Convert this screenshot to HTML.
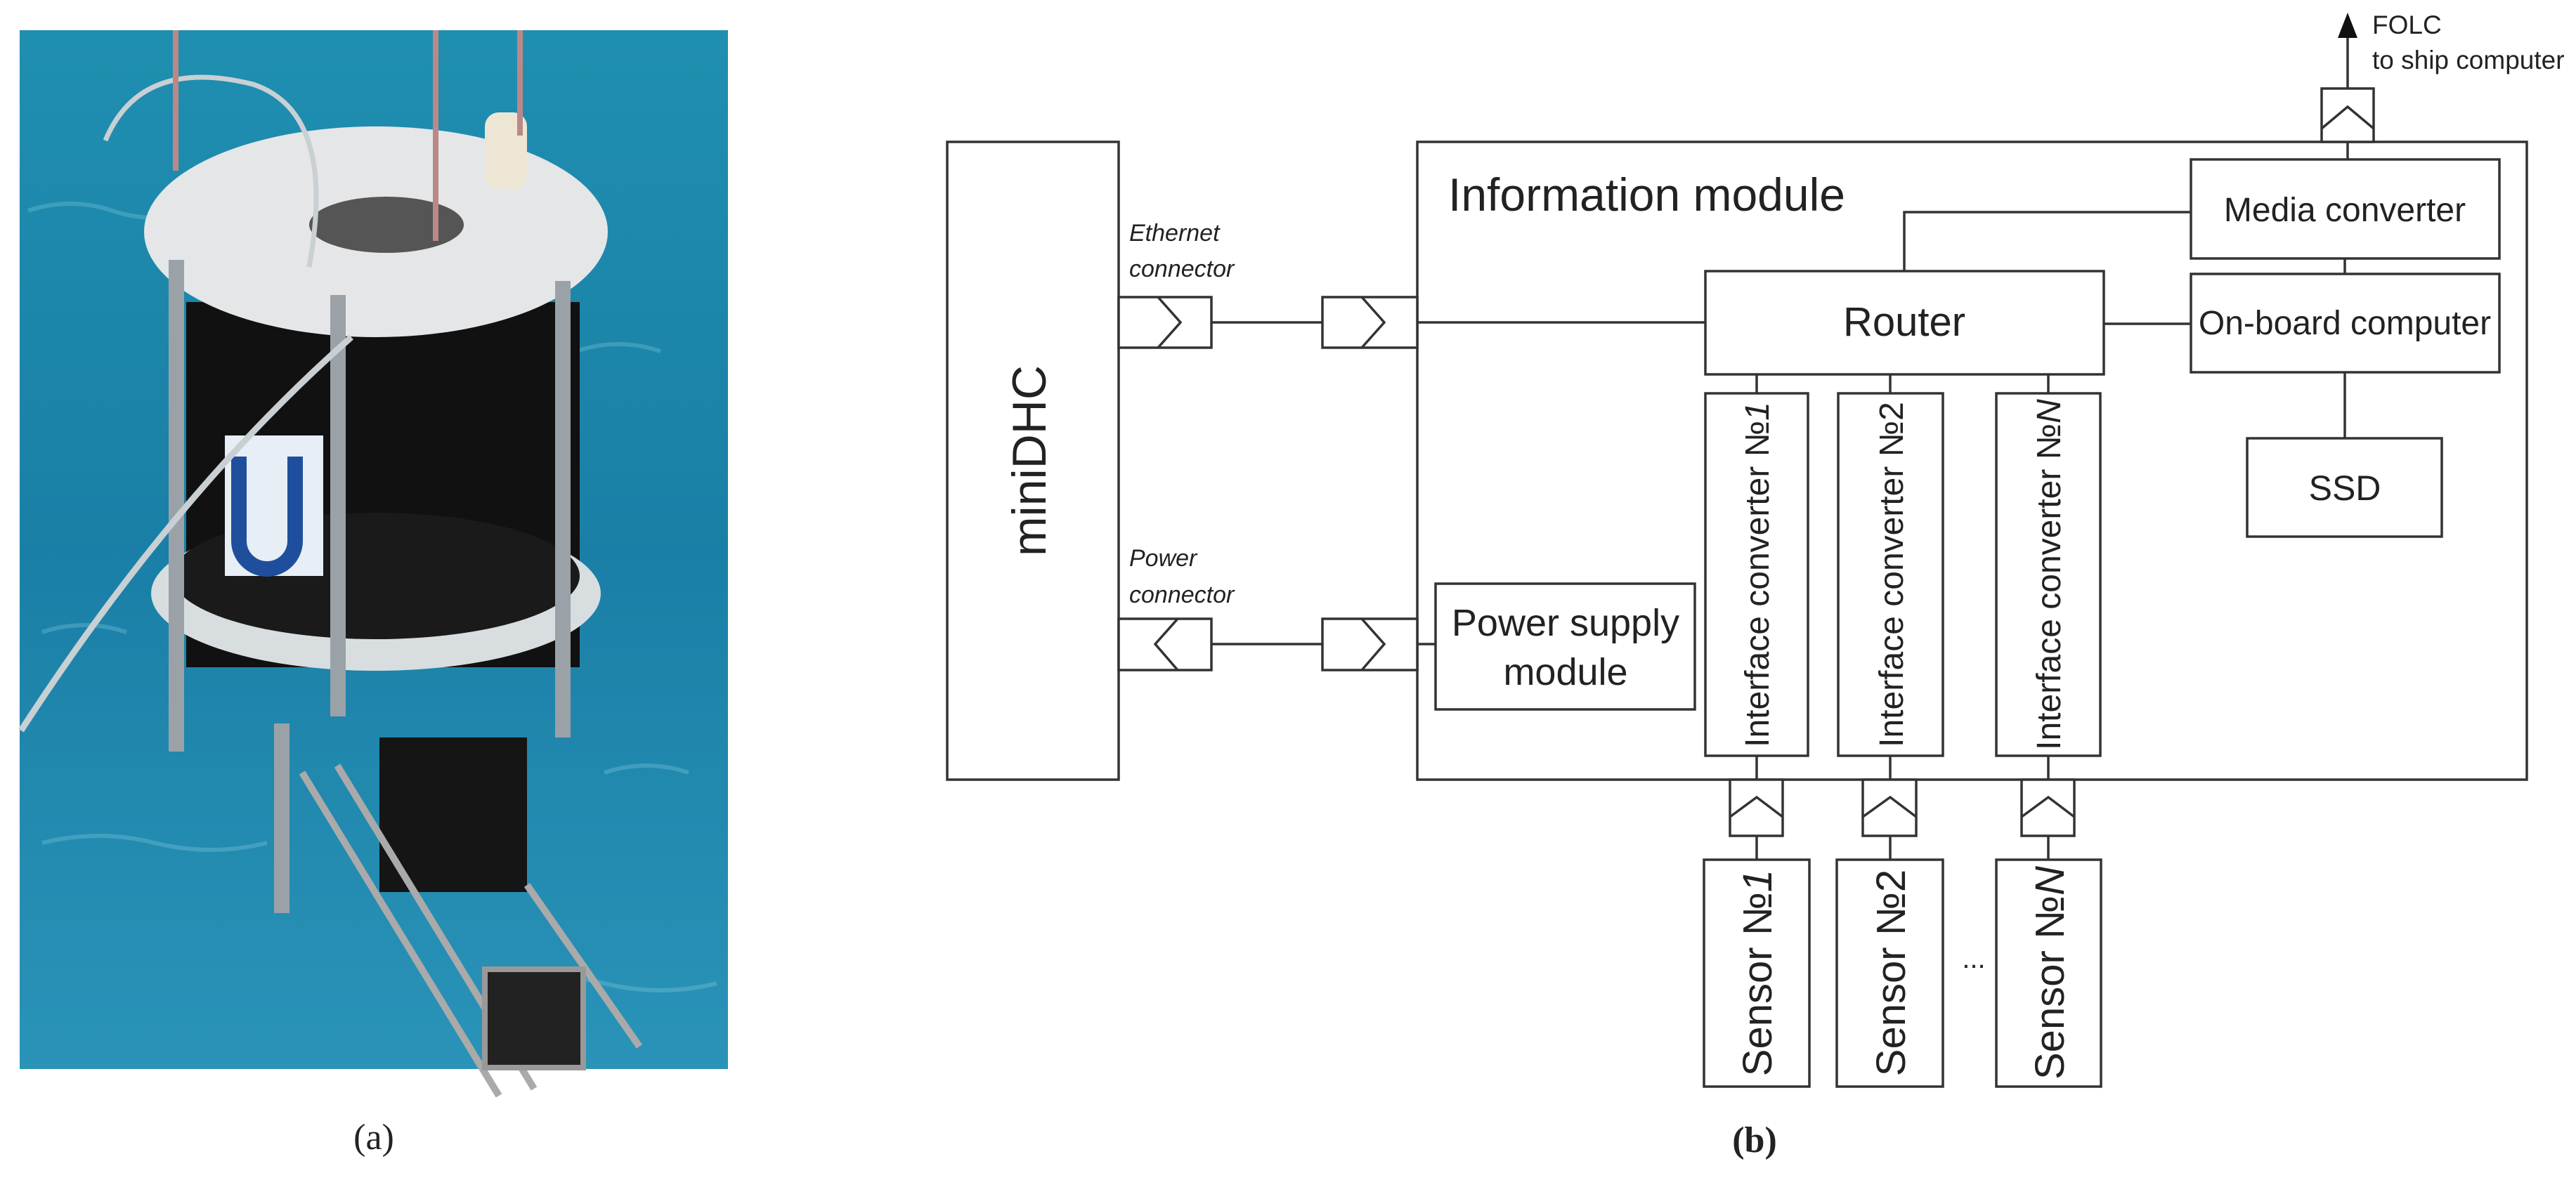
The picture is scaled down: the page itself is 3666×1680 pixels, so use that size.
<!DOCTYPE html>
<html><head><meta charset="utf-8"><style>
html,body{margin:0;padding:0;background:#fff;}
svg{display:block;}
text{font-family:"Liberation Sans",Arial,sans-serif;fill:#222;}
.s{fill:none;stroke:#333;stroke-width:3.5;}
.b{fill:#fff;stroke:#333;stroke-width:3.5;}
</style></head><body>
<svg width="3666" height="1680" viewBox="0 0 3666 1680" xmlns="http://www.w3.org/2000/svg">
<defs>
<linearGradient id="w" x1="0" y1="0" x2="0" y2="1">
<stop offset="0" stop-color="#1f8fb0"/><stop offset="0.5" stop-color="#1a7fa6"/><stop offset="1" stop-color="#2a93b8"/>
</linearGradient>
</defs>
<!-- photo -->
<rect x="28" y="43" width="1008" height="1479" fill="url(#w)"/>
<g opacity="0.25" stroke="#9fe0f0" stroke-width="6" fill="none">
<path d="M40 300 q60 -20 120 0 t120 0"/><path d="M820 500 q60 -20 120 0"/><path d="M60 1200 q80 -20 160 0 t160 0"/><path d="M700 1400 q80 -20 160 0 t160 0"/><path d="M60 900 q60 -20 120 0"/><path d="M860 1100 q60 -20 120 0"/>
</g>
<rect x="265" y="430" width="560" height="520" fill="#111"/>
<ellipse cx="535" cy="845" rx="320" ry="110" fill="#d8dde0"/>
<ellipse cx="535" cy="820" rx="290" ry="90" fill="#1a1a1a"/>
<ellipse cx="535" cy="330" rx="330" ry="150" fill="#e4e6e8"/>
<ellipse cx="550" cy="320" rx="110" ry="40" fill="#555"/>
<rect x="690" y="160" width="60" height="110" rx="20" fill="#eee6d5"/>
<rect x="320" y="620" width="140" height="200" fill="#e8eef5"/>
<path d="M340 650 v120 a40 40 0 0 0 80 0 v-120" stroke="#1f4f9c" stroke-width="22" fill="none"/>
<g fill="#9aa2a8"><rect x="240" y="370" width="22" height="700"/><rect x="470" y="420" width="22" height="600"/><rect x="790" y="400" width="22" height="650"/><rect x="390" y="1030" width="22" height="270"/></g>
<path d="M540 1050 h210 v220 h-210z" fill="#151515"/>
<path d="M430 1100 L710 1560 M480 1090 L760 1550 M750 1260 L910 1490" stroke="#aaa" stroke-width="10" fill="none"/>
<rect x="690" y="1380" width="140" height="140" fill="#222" stroke="#999" stroke-width="8"/>
<path d="M30 1040 Q250 700 500 480" stroke="#c8d0d4" stroke-width="9" fill="none"/>
<path d="M150 200 Q200 80 360 120 Q480 160 440 380" stroke="#c8d0d4" stroke-width="7" fill="none"/>
<path d="M250 43 v200 M620 43 v300 M740 43 v150" stroke="#b88" stroke-width="8"/>
<text x="532" y="1636" font-family="Liberation Serif,serif" font-size="52" text-anchor="middle" style="font-family:'Liberation Serif',serif">(<tspan>a</tspan>)</text>

<!-- diagram -->
<rect class="b" x="1348" y="202" width="244" height="908"/>
<text transform="translate(1488,656) rotate(-90)" font-size="68" text-anchor="middle">miniDHC</text>
<text x="1607" y="343" font-size="34" font-style="italic">Ethernet</text>
<text x="1607" y="394" font-size="34" font-style="italic">connector</text>
<text x="1607" y="806" font-size="34" font-style="italic">Power</text>
<text x="1607" y="858" font-size="34" font-style="italic">connector</text>
<!-- miniDHC connectors -->
<rect class="b" x="1592" y="423" width="132" height="72"/>
<path class="s" d="M1648 423 L1680 459 L1648 495"/>
<rect class="b" x="1592" y="881" width="132" height="73"/>
<path class="s" d="M1676 881 L1644 917 L1676 954"/>
<line class="s" x1="1724" y1="459" x2="1882" y2="459"/>
<line class="s" x1="1724" y1="917" x2="1882" y2="917"/>
<!-- info module -->
<rect class="b" x="2017" y="202" width="1579" height="908"/>
<text x="2061" y="300" font-size="66">Information module</text>
<rect class="b" x="1882" y="423" width="135" height="72"/>
<path class="s" d="M1938 423 L1970 459 L1938 495"/>
<rect class="b" x="1882" y="881" width="135" height="73"/>
<path class="s" d="M1938 881 L1970 917 L1938 954"/>
<line class="s" x1="2017" y1="459" x2="2427" y2="459"/>
<line class="s" x1="2017" y1="917" x2="2043" y2="917"/>
<!-- router -->
<rect class="b" x="2427" y="386" width="567" height="147"/>
<text x="2710" y="478" font-size="58" text-anchor="middle">Router</text>
<path class="s" d="M2710 386 V302 H3118"/>
<line class="s" x1="2994" y1="461" x2="3118" y2="461"/>
<rect class="b" x="3118" y="227" width="439" height="141"/>
<text x="3337" y="315" font-size="48" text-anchor="middle">Media converter</text>
<line class="s" x1="3337" y1="368" x2="3337" y2="390"/>
<rect class="b" x="3118" y="390" width="439" height="140"/>
<text x="3337" y="476" font-size="48" text-anchor="middle">On-board computer</text>
<line class="s" x1="3337" y1="530" x2="3337" y2="624"/>
<rect class="b" x="3198" y="624" width="277" height="140"/>
<text x="3337" y="712" font-size="50" text-anchor="middle">SSD</text>
<!-- top connector -->
<line class="s" x1="3341" y1="202" x2="3341" y2="227"/>
<rect class="b" x="3304" y="126" width="74" height="76"/>
<path class="s" d="M3304 183 L3341 152 L3378 183"/>
<line class="s" x1="3341" y1="126" x2="3341" y2="48"/>
<path d="M3341 18 L3327 54 L3355 54 Z" fill="#111"/>
<text x="3376" y="48" font-size="37">FOLC</text>
<text x="3376" y="98" font-size="37">to ship computer</text>
<!-- power supply -->
<rect class="b" x="2043" y="831" width="369" height="179"/>
<text x="2228" y="905" font-size="54" text-anchor="middle">Power supply</text>
<text x="2228" y="975" font-size="54" text-anchor="middle">module</text>
<!-- interface converters -->
<g>
<line class="s" x1="2500" y1="533" x2="2500" y2="1224"/>
<line class="s" x1="2690" y1="533" x2="2690" y2="1224"/>
<line class="s" x1="2915" y1="533" x2="2915" y2="1224"/>
<rect class="b" x="2427" y="560" width="146" height="516"/>
<rect class="b" x="2616" y="560" width="149" height="516"/>
<rect class="b" x="2841" y="560" width="148" height="516"/>
<text transform="translate(2517,818) rotate(-90)" font-size="48" text-anchor="middle">Interface converter №<tspan font-style="italic">1</tspan></text>
<text transform="translate(2708,818) rotate(-90)" font-size="48" text-anchor="middle">Interface converter №2</text>
<text transform="translate(2932,818) rotate(-90)" font-size="48" text-anchor="middle">Interface converter №<tspan font-style="italic">N</tspan></text>
<rect class="b" x="2462" y="1110" width="75" height="80"/>
<path class="s" d="M2462 1163 L2500 1135 L2537 1163"/>
<rect class="b" x="2651" y="1110" width="76" height="80"/>
<path class="s" d="M2651 1163 L2690 1135 L2727 1163"/>
<rect class="b" x="2877" y="1110" width="75" height="80"/>
<path class="s" d="M2877 1163 L2915 1135 L2952 1163"/>
<rect class="b" x="2425" y="1224" width="150" height="323"/>
<rect class="b" x="2614" y="1224" width="151" height="323"/>
<rect class="b" x="2841" y="1224" width="149" height="323"/>
<text transform="translate(2521,1385) rotate(-90)" font-size="58" text-anchor="middle">Sensor №<tspan font-style="italic">1</tspan></text>
<text transform="translate(2711,1385) rotate(-90)" font-size="58" text-anchor="middle">Sensor №2</text>
<text transform="translate(2937,1385) rotate(-90)" font-size="58" text-anchor="middle">Sensor №<tspan font-style="italic">N</tspan></text>
<text x="2809" y="1378" font-size="40" text-anchor="middle">...</text>
</g>
<text x="2497" y="1640" font-size="52" text-anchor="middle" font-weight="bold" style="font-family:'Liberation Serif',serif">(b)</text>
</svg>
</body></html>
